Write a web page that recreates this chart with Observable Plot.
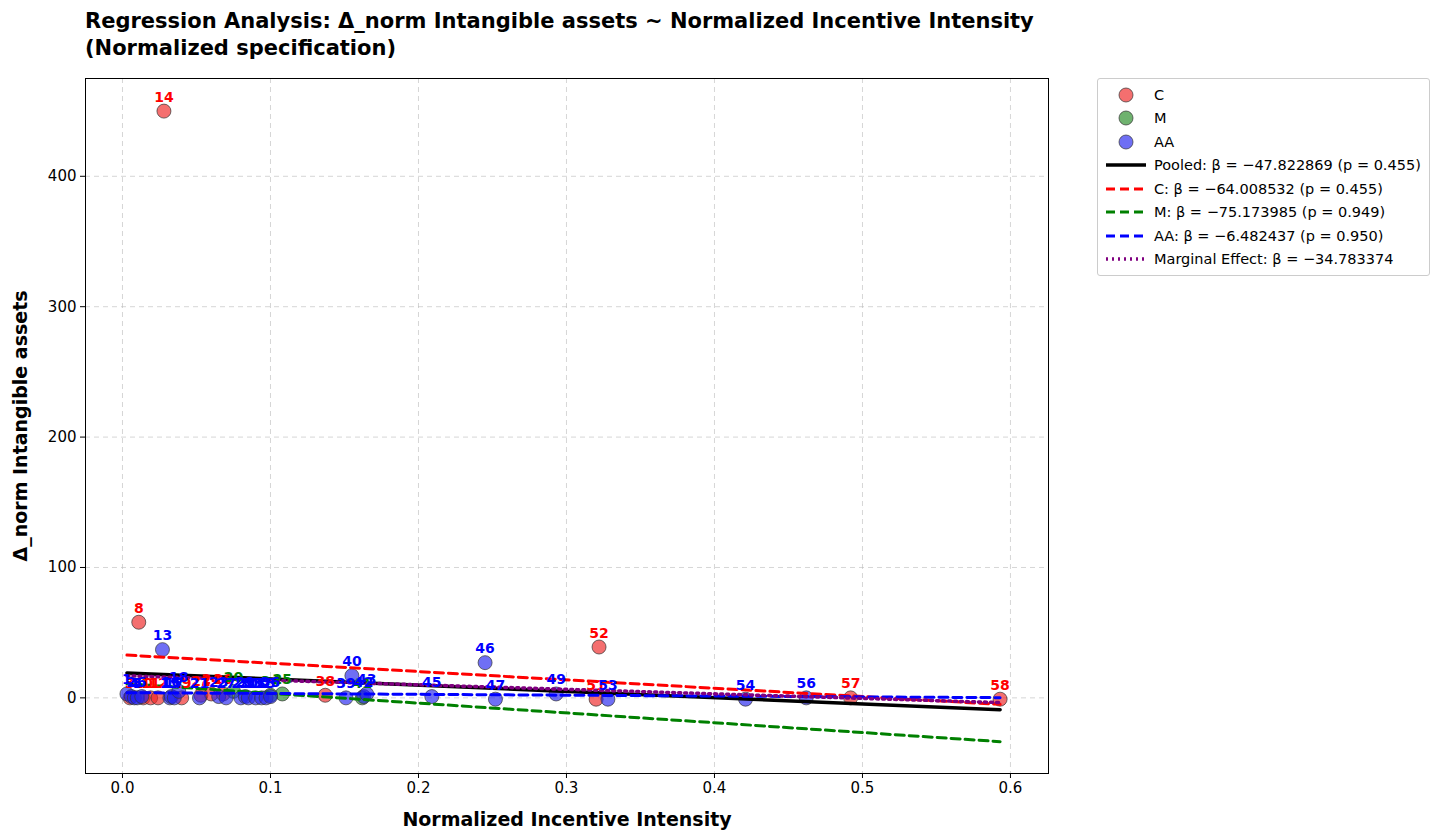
<!DOCTYPE html>
<html><head><meta charset="utf-8">
<script src="https://cdn.jsdelivr.net/npm/d3@7"></script>
<script src="https://cdn.jsdelivr.net/npm/@observablehq/plot@0.6"></script>
<style>
body{margin:0;background:#fff;font-family:"DejaVu Sans",sans-serif;}
#title{position:absolute;left:85px;top:8px;font-weight:bold;font-size:21px;line-height:27px;}
#chart{position:absolute;left:0;top:70px;}
#legend{position:absolute;left:1097px;top:78px;border:1px solid #ccc;border-radius:3px;padding:4px 8px;font-size:14.5px;}
.row{display:flex;align-items:center;height:23.5px;}
.sw{width:40px;display:flex;justify-content:center;margin-right:8px;}
</style></head><body>
<div id="title">Regression Analysis: Δ_norm Intangible assets ~ Normalized Incentive Intensity<br>(Normalized specification)</div>
<div id="chart"></div>
<div id="legend"></div>
<script>
const ids    = [3,8,10,11,12,14,19,22,24,26,38,51,52,57,58, 20,25,34,41, 1,2,4,5,6,13,15,16,17,18,21,23,27,28,29,30,31,32,33,36,39,40,42,43,45,46,47,49,53,54,56];
const groups = ["C","C","C","C","C","C","C","C","C","C","C","C","C","C","C","M","M","M","M","AA","AA","AA","AA","AA","AA","AA","AA","AA","AA","AA","AA","AA","AA","AA","AA","AA","AA","AA","AA","AA","AA","AA","AA","AA","AA","AA","AA","AA","AA","AA"];
const xs     = [0.005,0.011,0.014,0.019,0.024,0.028,0.040,0.053,0.060,0.068,0.137,0.320,0.322,0.492,0.593, 0.075,0.108,0.100,0.162, 0.003,0.006,0.008,0.010,0.013,0.027,0.032,0.033,0.035,0.038,0.052,0.065,0.070,0.080,0.083,0.085,0.090,0.094,0.097,0.100,0.151,0.155,0.163,0.165,0.209,0.245,0.252,0.293,0.328,0.421,0.462];
const ys     = [0,58,0,0,0,450,0,2,3,3,2,-1,39,0,-1, 5,3,2,0, 3,1,0,0,1,37,0,1,0,5,0,1,0,0,1,0,0,0,0,1,0,17,1,3,1,27,-1,3,-1,-1,0];
const lineNames = ["Pooled","C","M","AA","Marginal"];
const lineIntercepts = [19.3,33.0,11.0,4.0,17.0];
const lineSlopes = [-47.822869,-64.008532,-75.173985,-6.482437,-34.783374];
const lineX0 = [0.003,0.003,0.003,0.003,0.003], lineX1 = [0.593,0.593,0.593,0.593,0.593];
const legendLabels = ["Pooled: β = −47.822869 (p = 0.455)","C: β = −64.008532 (p = 0.455)","M: β = −75.173985 (p = 0.949)","AA: β = −6.482437 (p = 0.950)","Marginal Effect: β = −34.783374"];

const col = {C:"#ee2222",M:"#228822",AA:"#2222ee"};
const txt = {C:"red",M:"green",AA:"blue"};
const lstyle = {Pooled:["black",3.5,null],C:["red",3,"9,5"],M:["green",3,"9,5"],AA:["blue",3,"9,5"],Marginal:["purple",3.5,"2,4"]};
const pts = ids.map((id,i)=>({id,g:groups[i],x:xs[i],y:ys[i]}));
const lines = [];
lineNames.forEach((n,i)=>{[lineX0[i],lineX1[i]].forEach(x=>lines.push({n,x,y:lineIntercepts[i]+lineSlopes[i]*x}));});

const plot = Plot.plot({
  width:1060,height:770,marginLeft:85,marginRight:12,marginTop:8,marginBottom:67,
  style:{fontFamily:"DejaVu Sans",fontSize:"15px",color:"black"},
  x:{domain:[-0.025,0.6257],label:null},
  y:{domain:[-58,475],label:null},
  marks:[
    Plot.gridX([0,0.1,0.2,0.3,0.4,0.5,0.6],{stroke:"#bbb",strokeDasharray:"5,4",strokeOpacity:0.6}),
    Plot.gridY([0,100,200,300,400],{stroke:"#bbb",strokeDasharray:"5,4",strokeOpacity:0.6}),
    Plot.dot(pts,{x:"x",y:"y",r:7,fill:d=>col[d.g],fillOpacity:0.65,stroke:"#333",strokeWidth:0.7}),
    ...lineNames.map(n=>Plot.line(lines.filter(d=>d.n===n),{x:"x",y:"y",stroke:lstyle[n][0],strokeWidth:lstyle[n][1],strokeDasharray:lstyle[n][2]})),
    Plot.text(pts,{x:"x",y:"y",text:"id",dy:-14,fill:d=>txt[d.g],fontWeight:"bold",fontSize:14}),
    Plot.frame({stroke:"black"}),
    Plot.axisX({ticks:[0,0.1,0.2,0.3,0.4,0.5,0.6],tickFormat:d=>d===0?"0.0":String(d),label:"Normalized Incentive Intensity",labelAnchor:"center",labelArrow:"none",labelOffset:52,tickSize:5,fontSize:15}),
    Plot.axisY({ticks:[0,100,200,300,400],label:"Δ_norm Intangible assets",labelAnchor:"center",labelArrow:"none",labelOffset:72,tickSize:5,fontSize:15})
  ]
});
d3.select(plot).selectAll("g[aria-label='x-axis label'], g[aria-label='y-axis label']").style("font-weight","bold").style("font-size","19px");
document.getElementById("chart").appendChild(plot);

const lg = document.getElementById("legend");
["C","M","AA"].forEach(g=>{lg.insertAdjacentHTML("beforeend",`<div class="row"><div class="sw"><svg width="16" height="16"><circle cx="8" cy="8" r="7" fill="${col[g]}" fill-opacity="0.65" stroke="#333" stroke-width="0.7"/></svg></div>${g}</div>`);});
lineNames.forEach((n,i)=>{const s=lstyle[n];lg.insertAdjacentHTML("beforeend",`<div class="row"><div class="sw"><svg width="40" height="8"><line x1="0" x2="40" y1="4" y2="4" stroke="${s[0]}" stroke-width="${s[1]}" ${s[2]?`stroke-dasharray="${s[2]}"`:""}/></svg></div>${legendLabels[i]}</div>`);});
</script></body></html>
